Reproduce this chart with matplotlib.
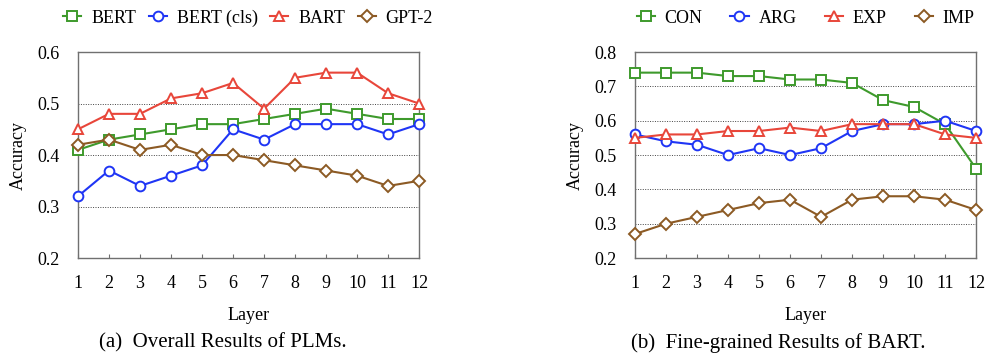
import matplotlib.pyplot as plt

plt.rcParams['font.family'] = ['Liberation Serif', 'DejaVu Serif']

layers = list(range(1, 13))

# (a) overall results of PLMs
bert = [0.41, 0.43, 0.44, 0.45, 0.46, 0.46, 0.47, 0.48, 0.49, 0.48, 0.47, 0.47]
bert_cls = [0.32, 0.37, 0.34, 0.36, 0.38, 0.45, 0.43, 0.46, 0.46, 0.46, 0.44, 0.46]
bart = [0.45, 0.48, 0.48, 0.51, 0.52, 0.54, 0.49, 0.55, 0.56, 0.56, 0.52, 0.50]
gpt2 = [0.42, 0.43, 0.41, 0.42, 0.40, 0.40, 0.39, 0.38, 0.37, 0.36, 0.34, 0.35]

# (b) fine-grained results of BART
con = [0.74, 0.74, 0.74, 0.73, 0.73, 0.72, 0.72, 0.71, 0.66, 0.64, 0.59, 0.46]
arg = [0.56, 0.54, 0.53, 0.50, 0.52, 0.50, 0.52, 0.57, 0.59, 0.59, 0.60, 0.57]
exp_ = [0.55, 0.56, 0.56, 0.57, 0.57, 0.58, 0.57, 0.59, 0.59, 0.59, 0.56, 0.55]
imp = [0.27, 0.30, 0.32, 0.34, 0.36, 0.37, 0.32, 0.37, 0.38, 0.38, 0.37, 0.34]

green = '#3e9a2c'
blue = '#1f35f5'
red = '#e8463a'
brown = '#8c5a24'

styles = [(green, 's'), (blue, 'o'), (red, '^'), (brown, 'D')]

fig = plt.figure(figsize=(9.86, 3.54), dpi=100)
ax1 = fig.add_axes([0.0791, 0.271, 0.346, 0.582])
ax2 = fig.add_axes([0.644, 0.271, 0.346, 0.582])


def draw(ax, series, names, yticks, leg_x, colsp):
    for vals, name, (c, m) in zip(series, names, styles):
        ms = 6 if m == 'D' else 7
        ax.plot(layers, vals, color=c, marker=m, markersize=ms, lw=1.5,
                markerfacecolor='white', markeredgewidth=1.4, label=name,
                clip_on=False, zorder=3)
    ax.set_xlim(1, 12)
    ax.set_ylim(yticks[0], yticks[-1])
    ax.set_xticks(layers)
    ax.set_yticks(yticks)
    ax.set_yticklabels([f'{v:.1f}' for v in yticks])
    for v in yticks[1:-1]:
        ax.axhline(v, color='#444444', lw=0.7, ls=(0, (1, 1.5)), zorder=1)
    for s in ax.spines.values():
        s.set_color('#707070')
        s.set_linewidth(1.0)
    ax.tick_params(axis='x', direction='in', length=3, width=0.8,
                   color='#707070', labelsize=13, pad=12)
    ax.tick_params(axis='y', length=0, labelsize=13, pad=13)
    ax.set_xlabel('Layer', fontsize=13, labelpad=11)
    ax.set_ylabel('Accuracy', fontsize=13, labelpad=8)
    ax.legend(loc='center', bbox_to_anchor=(leg_x, 1.165), ncol=4,
              frameon=False, fontsize=13, handlelength=1.0,
              handletextpad=0.55, columnspacing=colsp, borderaxespad=0)


draw(ax1, [bert, bert_cls, bart, gpt2], ['BERT', 'BERT (cls)', 'BART', 'GPT-2'],
     [0.2, 0.3, 0.4, 0.5, 0.6], 0.4985, 0.7)
draw(ax2, [con, arg, exp_, imp], ['CON', 'ARG', 'EXP', 'IMP'],
     [0.2, 0.3, 0.4, 0.5, 0.6, 0.7, 0.8], 0.50, 1.55)

fig.text(0.226, 0.018, '(a)  Overall Results of PLMs.', ha='center', fontsize=15)
fig.text(0.789, 0.018, '(b)  Fine-grained Results of BART.', ha='center', fontsize=15)

fig.savefig('out.png', dpi=100)
